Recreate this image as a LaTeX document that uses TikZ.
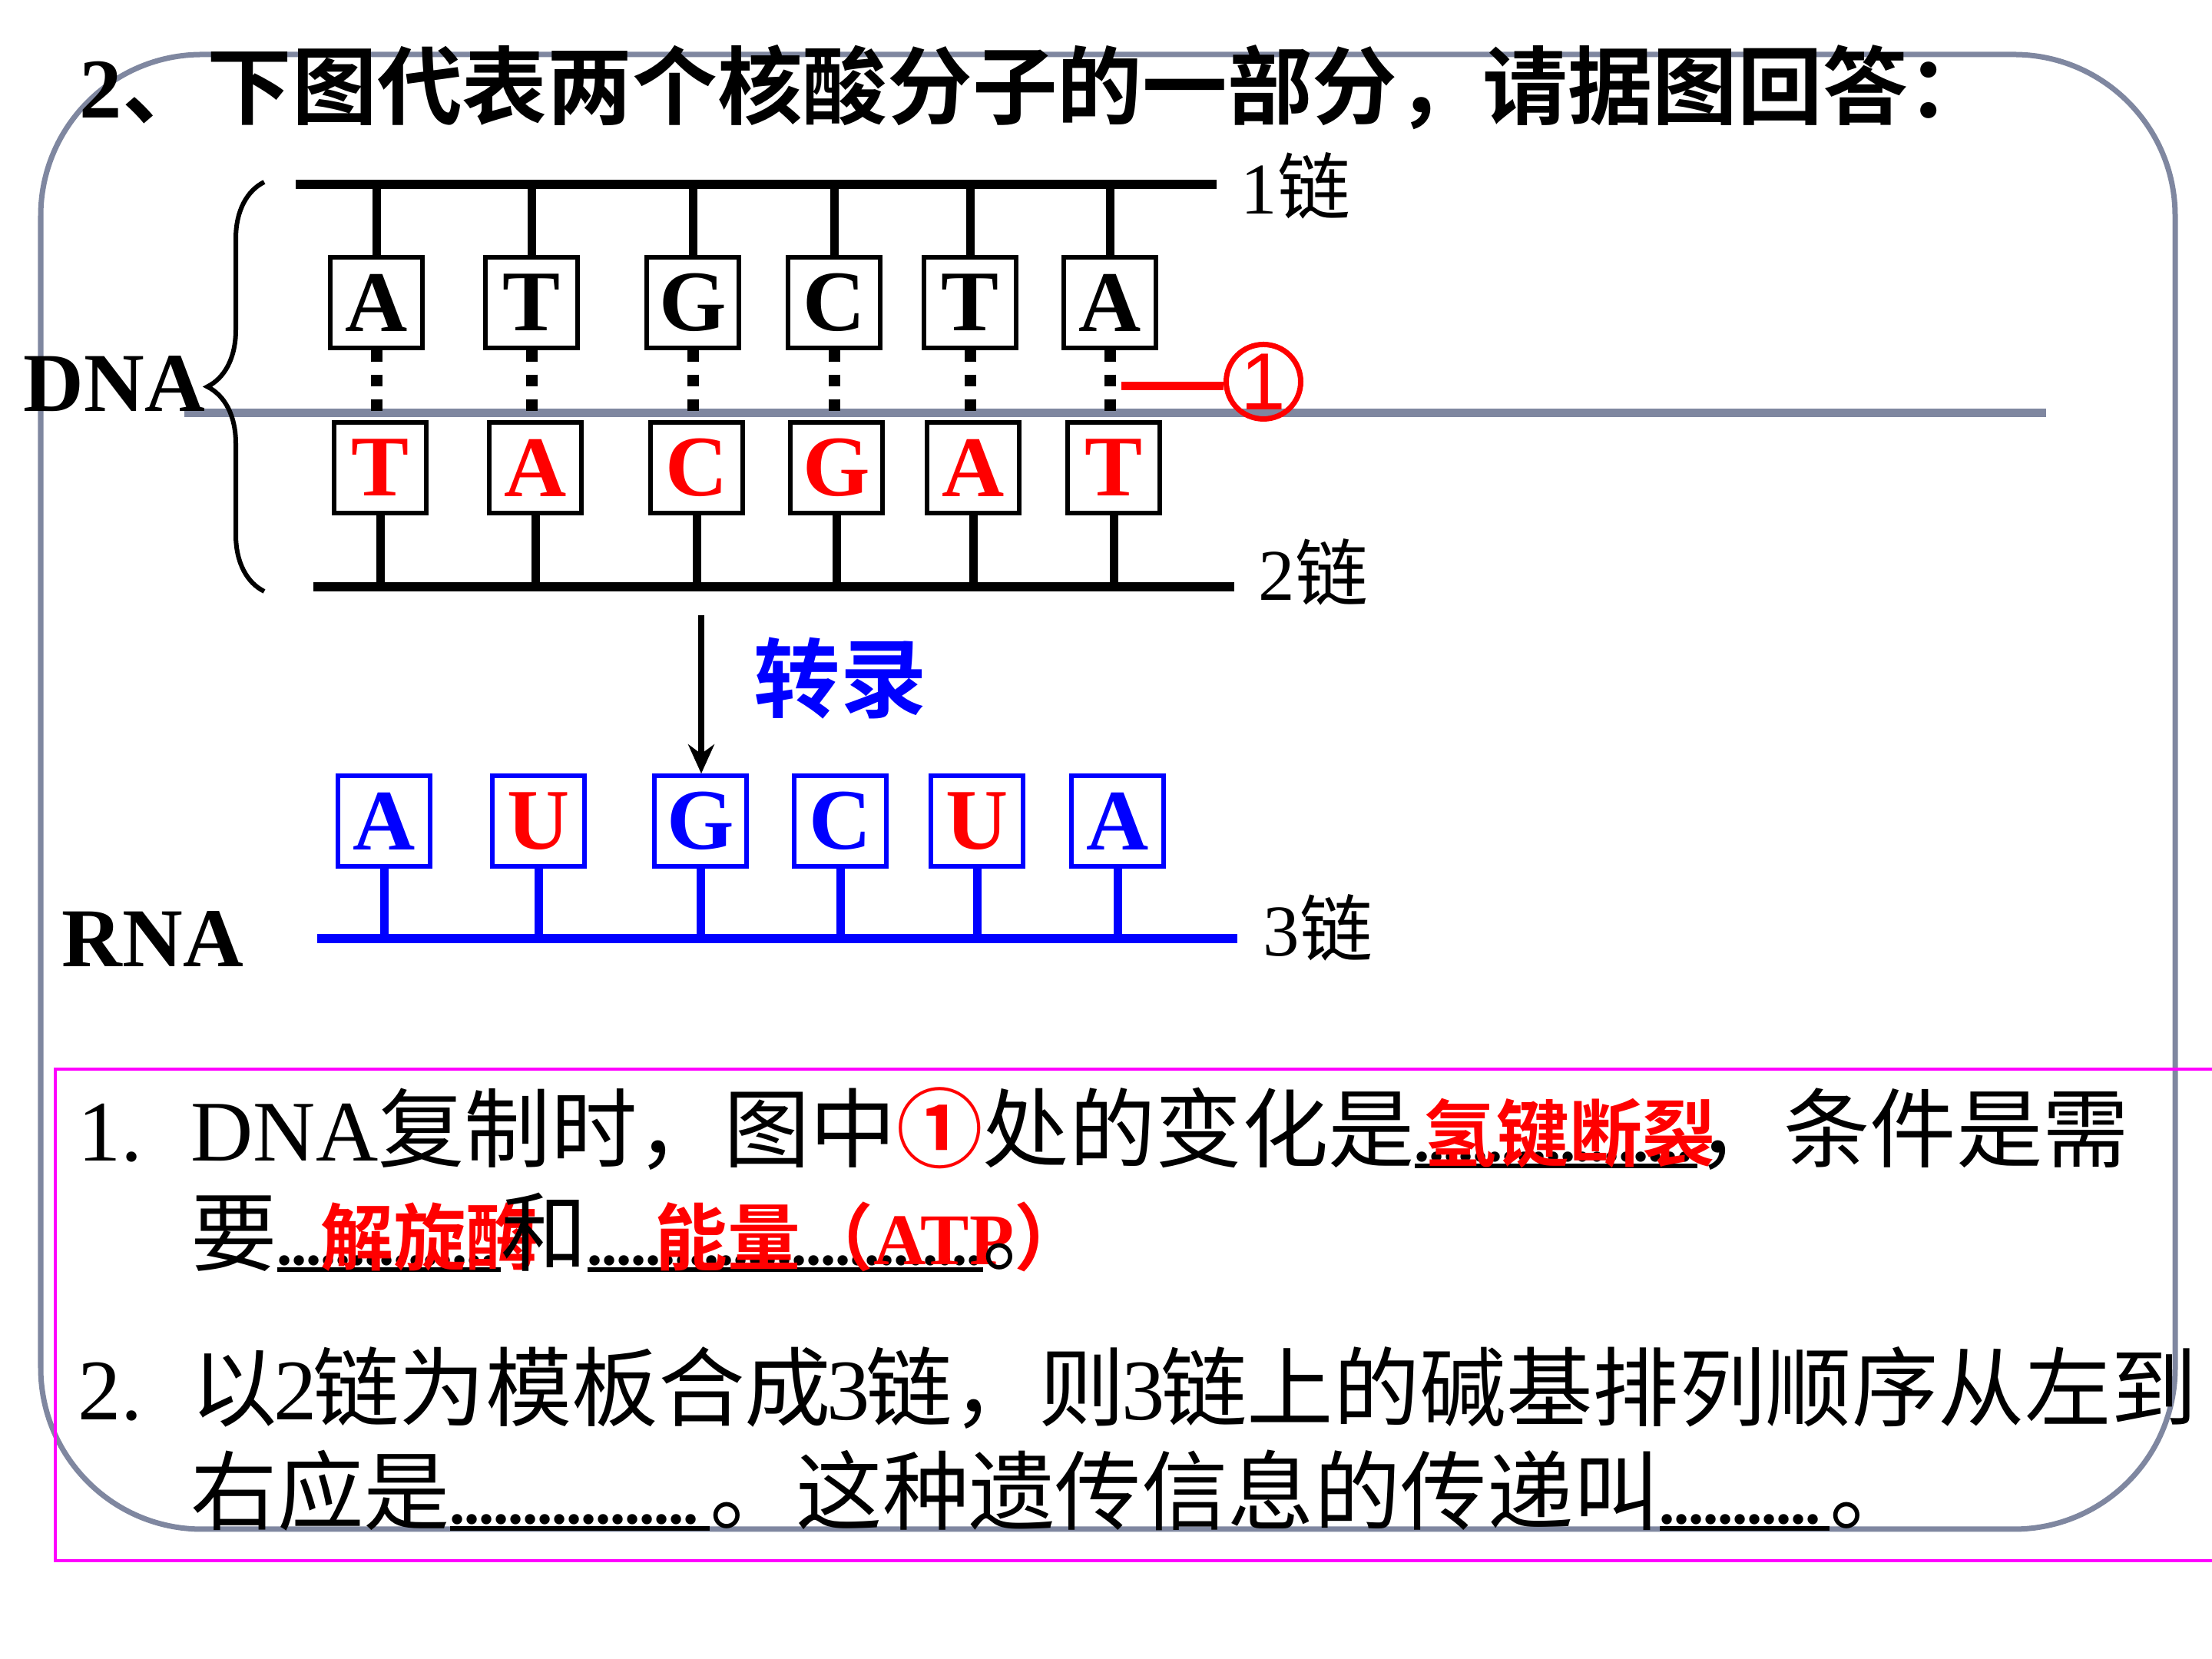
\documentclass[tikz,border=0pt]{standalone}
\usepackage{fontspec}
\setmainfont{Liberation Serif}
\setsansfont{Liberation Sans}
\newfontfamily\cjk[BoldFont={Noto Sans CJK SC Bold}]{Noto Sans CJK SC}
\newcommand\zh[1]{{\cjk #1}}
\newcommand\dg[1]{\makebox[0.46cm]{#1}}
\usetikzlibrary{arrows.meta,decorations.pathreplacing}
\definecolor{slate}{RGB}{127,135,160}
\definecolor{rnablue}{RGB}{0,0,255}
\definecolor{ansred}{RGB}{255,0,0}
\definecolor{frame}{RGB}{255,0,255}
% blank to fill in: width, offset of the answer, answer
\newcommand\ansblank[3]{%
  \makebox[#1][l]{%
    \rlap{\rule[-0.09cm]{#1}{0.055cm}}%
    \rlap{\hbox to #1{\leaders\hbox to 0.19cm{\hss.\hss}\hfill}}%
    \hspace*{#2}{\color{ansred}\fontsize{27pt}{27pt}\selectfont\bfseries #3}}}

\begin{document}
\begin{tikzpicture}[
  nt/.style={draw,line width=0.055cm,minimum width=1.2cm,minimum height=1.18cm,
             inner sep=0pt,fill=white,font=\fontsize{32pt}{32pt}\selectfont\bfseries},
  rnt/.style={nt,draw=rnablue},
  strand/.style={line width=0.115cm},
  stem/.style={line width=0.11cm},
  hbond/.style={line width=0.15cm,dash pattern=on 0.155cm off 0.165cm},
  arr/.style={-{Stealth[length=0.38cm,width=0.34cm]},line width=0.08cm},
  chain/.style={anchor=base west,inner sep=0pt,font=\fontsize{27pt}{27pt}\selectfont},
  lbl/.style={anchor=base west,inner sep=0pt,font=\fontsize{31pt}{31pt}\selectfont\bfseries},
  qline/.style={anchor=base west,inner sep=0pt,font=\fontsize{32pt}{32pt}\selectfont}
]
\useasboundingbox (0,0) rectangle (28.8,21.6);
% slide frame
\draw[slate,line width=0.07cm,rounded corners=2.1cm] (0.53,1.69) rectangle (28.32,20.89);
\draw[slate,line width=0.11cm] (2.40,16.22) coordinate (divL) -- (26.64,16.22) coordinate (divR);
\draw[frame,line width=0.035cm] (28.9,7.68) -- (0.72,7.68) -- (0.72,1.28) -- (28.9,1.28);

\node[anchor=base west,inner sep=0pt,font=\fontsize{31.5pt}{31.5pt}\selectfont\bfseries] (title)
  at (1.03,20.06) {2\zh{、下图代表两个核酸分子的一部分，请据图回答：}};

% strands
\draw[strand] (3.85,19.20) coordinate (s1a) -- (15.84,19.20) coordinate (s1b);
\draw[strand] (4.08,13.96) coordinate (s2a) -- (16.07,13.96) coordinate (s2b);
\draw[strand,rnablue] (4.13,9.38) coordinate (s3a) -- (16.11,9.38) coordinate (s3b);
\node[chain] (l1) at (16.15,18.81) {1\zh{链}};
\node[chain] (l2) at (16.38,13.78) {2\zh{链}};
\node[chain] (l3) at (16.44,9.15) {3\zh{链}};

% chain 1
\node[nt] (d1) at (4.90,17.66) {A};
\node[nt] (d2) at (6.92,17.66) {T};
\node[nt] (d3) at (9.02,17.66) {G};
\node[nt] (d4) at (10.86,17.66) {C};
\node[nt] (d5) at (12.63,17.66) {T};
\node[nt] (d6) at (14.45,17.66) {A};
% chain 2
\node[nt,text=ansred] (c1) at (4.95,15.51) {T};
\node[nt,text=ansred] (c2) at (6.97,15.51) {A};
\node[nt,text=ansred] (c3) at (9.07,15.51) {C};
\node[nt,text=ansred] (c4) at (10.89,15.51) {G};
\node[nt,text=ansred] (c5) at (12.67,15.51) {A};
\node[nt,text=ansred] (c6) at (14.50,15.51) {T};
% chain 3
\node[rnt,text=rnablue] (r1) at (5.00,10.91) {A};
\node[rnt,text=ansred] (r2) at (7.01,10.91) {U};
\node[rnt,text=rnablue] (r3) at (9.12,10.91) {G};
\node[rnt,text=rnablue] (r4) at (10.94,10.91) {C};
\node[rnt,text=ansred] (r5) at (12.72,10.91) {U};
\node[rnt,text=rnablue] (r6) at (14.55,10.91) {A};

\draw[stem] (d1.north) -- (d1.north |- s1a);
\draw[stem] (d2.north) -- (d2.north |- s1a);
\draw[stem] (d3.north) -- (d3.north |- s1a);
\draw[stem] (d4.north) -- (d4.north |- s1a);
\draw[stem] (d5.north) -- (d5.north |- s1a);
\draw[stem] (d6.north) -- (d6.north |- s1a);
\draw[stem] (c1.south) -- (c1.south |- s2a);
\draw[stem] (c2.south) -- (c2.south |- s2a);
\draw[stem] (c3.south) -- (c3.south |- s2a);
\draw[stem] (c4.south) -- (c4.south |- s2a);
\draw[stem] (c5.south) -- (c5.south |- s2a);
\draw[stem] (c6.south) -- (c6.south |- s2a);
\draw[stem,rnablue] (r1.south) -- (r1.south |- s3a);
\draw[stem,rnablue] (r2.south) -- (r2.south |- s3a);
\draw[stem,rnablue] (r3.south) -- (r3.south |- s3a);
\draw[stem,rnablue] (r4.south) -- (r4.south |- s3a);
\draw[stem,rnablue] (r5.south) -- (r5.south |- s3a);
\draw[stem,rnablue] (r6.south) -- (r6.south |- s3a);
% hydrogen bonds
\draw[hbond] (d1.south) -- (d1.south |- divL);
\draw[hbond] (d2.south) -- (d2.south |- divL);
\draw[hbond] (d3.south) -- (d3.south |- divL);
\draw[hbond] (d4.south) -- (d4.south |- divL);
\draw[hbond] (d5.south) -- (d5.south |- divL);
\draw[hbond] (d6.south) -- (d6.south |- divL);

% marker 1
\node[draw=ansred,line width=0.07cm,circle,minimum size=0.97cm,inner sep=0pt,text=ansred,
      font=\sffamily\fontsize{30pt}{30pt}\selectfont] (m1) at (16.45,16.63) {1};
\coordinate (m1a) at (14.60,16.57);
\draw[ansred,line width=0.11cm] (m1a) -- (m1a -| m1.west);

\draw[line width=0.06cm,decorate,decoration={brace,amplitude=0.74cm}] (3.44,13.90) -- (3.44,19.23);
\node[lbl] (dna) at (0.30,16.24) {DNA};
\node[lbl] (rna) at (0.80,9.01) {RNA};

% transcription
\coordinate (a0) at (9.13,13.59);
\draw[arr] (a0) -- (a0 |- r3.north);
\node[inner sep=0pt,text=rnablue,font=\fontsize{32pt}{32pt}\selectfont\bfseries] (zl)
  at (10.94,12.77) {\zh{转录}};

% questions
\node[qline] (q1) at (1.01,6.48) {\makebox[1.47cm][l]{1.}DNA\zh{复制时，图中}{\color{ansred}\bfseries\zh{①}}\zh{处的变化是}\ansblank{3.68cm}{0.12cm}{\zh{氢键断裂}}\zh{，条件是需}};
\node[qline] (q2) at (2.48,5.13) {\zh{要}\ansblank{2.91cm}{0.56cm}{\zh{解旋酶}}\zh{和}\ansblank{5.15cm}{0.88cm}{\zh{能量（}ATP\zh{）}}\zh{。}};
\node[qline] (q3) at (1.01,3.11) {\makebox[1.47cm][l]{2.}\zh{以}\dg{2}\zh{链为模板合成}\dg{3}\zh{链，则}\dg{3}\zh{链上的碱基排列顺序从左到}};
\node[qline] (q4) at (2.48,1.76) {\zh{右应是}\ansblank{3.38cm}{0cm}{}\zh{。这种遗传信息的传递叫}\ansblank{2.21cm}{0cm}{}\zh{。}};
\end{tikzpicture}
\end{document}
